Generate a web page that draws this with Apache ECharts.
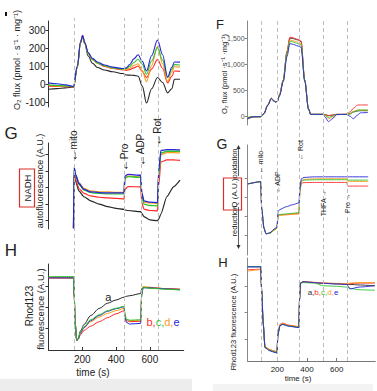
<!DOCTYPE html>
<html>
<head>
<meta charset="utf-8">
<title>O2 flux, NADH, Q and Rhod123 traces</title>
<script src="https://cdn.jsdelivr.net/npm/echarts@6/dist/echarts.min.js"></script>
<style>
  html, body { margin: 0; padding: 0; background: #fff; }
  #chart { width: 377px; height: 391px; }
</style>
</head>
<body>
<div id="chart"></div>
<script>
// event times (s) marked by dashed lines
const leftEvents = [150, 450, 550, 650];
const rightEvents = [90, 200, 350, 510, 670];

// tick labels
const fluxTicks = [-100, 0, 100, 200, 300];
const ffTicks = [0, 500, 1000, 1500];
const timeTicks = [200, 400, 600];

// left: O2 flux
const fluxT      = [0, 50, 100, 148, 170, 190, 202, 215, 235, 260, 290, 330, 380, 440, 460, 480, 505, 530, 555, 580, 610, 645, 675, 705, 730, 745, 778];
const fluxBlue   = [8, 3, -3, -12, 100, 235, 272, 232, 178, 145, 125, 108, 96, 88, 92, 110, 142, 165, 128, 75, 160, 247, 165, 40, 95, 125, 124];
const fluxGreen  = [-3, -6, -9, -13, 95, 232, 268, 228, 172, 140, 120, 104, 92, 85, 88, 100, 122, 140, 112, 56, 130, 205, 135, 38, 85, 110, 108];
const fluxOrange = [-6, -9, -11, -14, 92, 228, 265, 226, 170, 138, 118, 102, 90, 84, 82, 90, 105, 115, 75, 15, 105, 212, 115, 15, 70, 98, 96];
const fluxRed    = [-10, -12, -13, -15, 100, 240, 274, 232, 172, 140, 118, 100, 88, 82, 78, 82, 92, 102, 72, 38, 85, 138, 90, 8, 45, 74, 72];
const fluxBlack  = [-28, -24, -20, -16, 90, 238, 268, 225, 158, 118, 94, 80, 70, 60, 52, 51, 50, 45, -10, -105, -25, 38, 10, -48, -25, 28, 28];

// left: NADH autofluorescence
const nadhT      = [148, 152, 160, 180, 210, 250, 300, 350, 400, 447, 452, 470, 545, 552, 565, 600, 645, 652, 665, 700, 740, 778];
const nadhBlue   = [0.05, 3.75, 3.3, 2.75, 2.4, 2.25, 2.2, 2.18, 2.18, 2.18, 3.2, 3.3, 3.25, 2.2, 1.7, 1.62, 1.6, 3.5, 4.75, 4.8, 4.8, 4.78];
const nadhGreen  = [0.05, 3.7, 3.25, 2.7, 2.35, 2.2, 2.15, 2.12, 2.12, 2.12, 3.05, 3.17, 3.12, 2.0, 1.5, 1.42, 1.4, 3.2, 4.6, 4.7, 4.7, 4.7];
const nadhOrange = [0.05, 3.6, 3.3, 2.8, 2.45, 2.3, 2.25, 2.25, 2.22, 2.22, 3.1, 3.2, 3.15, 2.1, 1.62, 1.58, 1.55, 3.3, 4.5, 4.62, 4.62, 4.6];
const nadhRed    = [0.05, 3.5, 3.0, 2.45, 2.15, 2.0, 1.92, 1.88, 1.85, 1.82, 2.4, 2.56, 2.55, 1.6, 1.2, 1.12, 1.1, 2.6, 4.05, 4.18, 4.18, 4.15];
const nadhBlack  = [0.05, 3.37, 2.9, 2.3, 1.95, 1.7, 1.5, 1.35, 1.25, 1.19, 1.15, 1.12, 1.05, 0.95, 0.75, 0.55, 0.5, 0.6, 0.9, 1.95, 2.55, 2.95];

// left: Rhod123 fluorescence
const rhoT      = [0, 148, 152, 158, 167, 175, 190, 210, 250, 300, 350, 400, 447, 452, 460, 480, 545, 552, 560, 600, 700, 778];
const rhoBlue   = [3.39, 3.39, 2.6, 1.2, 0.45, 0.5, 0.8, 1.05, 1.38, 1.62, 1.82, 1.94, 2.03, 1.65, 1.3, 1.22, 1.25, 2.6, 2.92, 2.92, 2.87, 2.83];
const rhoGreen  = [3.45, 3.45, 2.7, 1.3, 0.45, 0.55, 0.85, 1.1, 1.42, 1.66, 1.85, 1.96, 2.05, 1.75, 1.45, 1.4, 1.42, 2.7, 2.95, 2.9, 2.85, 2.82];
const rhoOrange = [3.39, 3.39, 2.6, 1.25, 0.5, 0.55, 0.82, 1.05, 1.33, 1.55, 1.72, 1.85, 1.95, 1.7, 1.42, 1.38, 1.4, 2.7, 2.98, 2.95, 2.88, 2.85];
const rhoRed    = [3.39, 3.39, 2.6, 1.25, 0.45, 0.5, 0.72, 0.92, 1.12, 1.33, 1.52, 1.7, 1.84, 1.6, 1.38, 1.33, 1.35, 2.65, 2.95, 2.92, 2.88, 2.85];
const rhoBlack  = [3.39, 3.39, 2.6, 1.25, 0.45, 0.55, 0.9, 1.2, 1.62, 1.95, 2.2, 2.35, 2.48, 2.5, 2.52, 2.55, 2.65, 2.88, 2.95, 2.92, 2.88, 2.85];

// right: O2 flux
const ffT      = [0, 40, 88, 110, 135, 160, 175, 190, 200, 215, 240, 265, 285, 300, 340, 360, 385, 410, 425, 505, 520, 545, 570, 600, 665, 690, 712, 740, 760, 810];
const ffBlack  = [-45, -5, 0, 60, 220, 352, 310, 282, 300, 420, 700, 1240, 1505, 1500, 1470, 1440, 700, 150, 45, 45, 40, 20, 30, 45, 45, 60, 90, 110, 115, 115];
const ffRed    = [-20, 0, 0, 60, 220, 355, 310, 280, 300, 420, 700, 1250, 1525, 1515, 1480, 1450, 700, 150, 45, 45, 40, 20, 30, 45, 45, 90, 160, 222, 225, 225];
const ffOrange = [-15, 0, 0, 60, 215, 350, 305, 280, 298, 410, 690, 1220, 1470, 1460, 1430, 1400, 690, 150, 45, 45, 30, -40, -10, 40, 45, 60, 100, 125, 125, 125];
const ffGreen  = [-15, 0, 0, 60, 215, 350, 305, 280, 298, 410, 690, 1200, 1445, 1435, 1400, 1375, 690, 150, 45, 45, 35, -15, 10, 42, 45, 50, 90, 125, 128, 128];
const ffBlue   = [-30, 0, 0, 58, 212, 348, 300, 278, 296, 400, 670, 1150, 1400, 1390, 1355, 1330, 680, 150, 45, 45, 0, -95, -40, 40, 45, 10, -40, 30, 75, 80];

// right: Q redox state
const qT      = [0, 88, 95, 110, 124, 150, 184, 198, 205, 215, 260, 300, 346, 352, 362, 380, 450, 600, 668, 674, 812];
const qRed    = [3.68, 3.8, 2.4, 1.4, 1.1, 1.13, 1.33, 1.4, 2.05, 2.08, 2.1, 2.13, 2.15, 3.3, 3.72, 3.75, 3.76, 3.76, 3.76, 3.57, 3.57];
const qOrange = [3.68, 3.8, 2.4, 1.4, 1.1, 1.12, 1.3, 1.38, 2.0, 2.05, 2.08, 2.1, 2.12, 3.3, 3.85, 3.92, 3.95, 3.95, 3.95, 3.82, 3.8];
const qGreen  = [3.68, 3.8, 2.4, 1.4, 1.1, 1.13, 1.32, 1.4, 2.05, 2.1, 2.13, 2.16, 2.2, 3.4, 3.82, 3.88, 3.9, 3.9, 3.9, 3.88, 3.88];
const qBlue   = [3.68, 3.8, 2.4, 1.4, 1.1, 1.15, 1.38, 1.45, 2.25, 2.35, 2.5, 2.6, 2.7, 3.5, 3.95, 4.02, 4.05, 4.05, 4.05, 4.05, 4.05];

// right: Rhod123 fluorescence
const rhT      = [0, 88, 95, 105, 117, 150, 184, 198, 204, 218, 235, 280, 345, 350, 356, 373, 450, 510, 600, 668, 690, 750, 857];
const rhBlack  = [3.71, 3.71, 2.8, 1.6, 0.7, 0.58, 0.52, 0.5, 1.2, 1.52, 1.56, 1.5, 1.45, 2.5, 3.1, 3.15, 3.12, 3.09, 3.07, 3.05, 3.05, 3.03, 3.0];
const rhRed    = [3.6, 3.62, 2.8, 1.6, 0.72, 0.6, 0.55, 0.52, 1.2, 1.55, 1.6, 1.52, 1.47, 2.5, 3.1, 3.14, 3.12, 3.1, 3.08, 3.07, 3.08, 3.1, 3.1];
const rhGreen  = [3.72, 3.72, 2.8, 1.6, 0.68, 0.57, 0.52, 0.5, 1.18, 1.5, 1.55, 1.49, 1.44, 2.5, 3.08, 3.12, 3.1, 3.0, 2.98, 2.95, 2.9, 2.85, 2.83];
const rhOrange = [3.55, 3.6, 2.8, 1.6, 0.7, 0.6, 0.55, 0.52, 1.2, 1.53, 1.58, 1.51, 1.46, 2.5, 3.1, 3.15, 3.13, 3.1, 3.09, 3.08, 3.1, 3.12, 3.12];
const rhBlue   = [3.71, 3.71, 2.8, 1.6, 0.68, 0.56, 0.5, 0.48, 1.15, 1.5, 1.55, 1.48, 1.43, 2.5, 3.1, 3.15, 3.12, 3.09, 3.07, 3.05, 2.88, 2.95, 3.0];

const cBlue = '#2626d9', cGreen = '#2ec42e', cOrange = '#ff9a1a', cRed = '#ff2b2b', cBlack = '#262626';
const fam = '"Liberation Sans", Arial, sans-serif';

function zip(t, v) { return t.map((x, i) => [x, v[i]]); }

function trace(idx, t, v, color, width, smooth) {
    return {
        type: 'line', xAxisIndex: idx, yAxisIndex: idx, data: zip(t, v),
        showSymbol: false, smooth: smooth, smoothMonotone: 'x', silent: true, z: 3,
        lineStyle: { color: color, width: width }
    };
}

function dashes(idx, events) {
    return {
        type: 'line', xAxisIndex: idx, yAxisIndex: idx, data: [[events[0], 0]],
        showSymbol: false, silent: true, z: 1, lineStyle: { opacity: 0 },
        markLine: {
            symbol: 'none', silent: true, label: { show: false },
            lineStyle: { type: [4, 3], color: '#bdbdbd', width: 1 },
            data: events.map(x => ({ xAxis: x }))
        }
    };
}

function txt(x, y, text, size, opt) {
    opt = opt || {};
    return {
        type: 'text', x: x, y: y, rotation: opt.rot || 0, silent: true, z: 10,
        style: {
            text: text, fontSize: size, fontFamily: fam, fill: opt.color || '#222',
            align: opt.align || 'center', verticalAlign: 'middle',
            textAlign: opt.align || 'center', textVerticalAlign: 'middle',
            fontWeight: opt.weight || 'normal', rich: opt.rich
        }
    };
}

// rotated event label with a heavier arrow
const arrowRich = {
    ar: { fontSize: 12, fontWeight: 'bold', fontFamily: fam, fill: '#111', color: '#111' },
    tx: { fontSize: 10, fontFamily: fam, fill: '#222', color: '#222' }
};
function eventLabel(x, y, name) {
    return txt(x, y, '{ar|\u2190}{tx|' + name + '}', 10, { rot: Math.PI / 2, rich: arrowRich });
}

const R = Math.PI / 2;
const L = { left: 48.5, width: 135.2 };
const Rt = { left: 247.6, width: 127.7 };

const grids = [
    { left: L.left, width: L.width, top: 21, height: 86 },
    { left: L.left, width: L.width, top: 143, height: 86 },
    { left: L.left, width: L.width, top: 264, height: 86 },
    { left: Rt.left, width: Rt.width, top: 21, height: 104 },
    { left: Rt.left, width: Rt.width, top: 145, height: 110 },
    { left: Rt.left, width: Rt.width, top: 258, height: 103 },
    { left: L.left, width: L.width, top: 18, height: 332 },
    { left: Rt.left, width: Rt.width, top: 20, height: 341 }
].map(g => Object.assign({ outerBoundsMode: 'none', containLabel: false }, g));

function xAx(i, max, show, fs, col) {
    return {
        type: 'value', gridIndex: i, min: 0, max: max, show: show,
        splitLine: { show: false },
        axisLine: { show: show, onZero: false, lineStyle: { color: col, width: 1 } },
        axisTick: { show: show, inside: true, length: 3, customValues: timeTicks, lineStyle: { color: col } },
        axisLabel: { show: show, customValues: timeTicks, fontSize: fs, fontFamily: fam, color: '#222', margin: 4 }
    };
}

function yAx(i, min, max, ticks, labels, fs, col) {
    return {
        type: 'value', gridIndex: i, min: min, max: max,
        splitLine: { show: false },
        axisLine: { show: ticks.length > 0, onZero: false, lineStyle: { color: col, width: 1 } },
        axisTick: { show: ticks.length > 0, length: 3, customValues: ticks, lineStyle: { color: col } },
        axisLabel: { show: !!labels, customValues: labels || [], fontSize: fs, fontFamily: fam, color: fs < 9 ? '#555' : '#222', margin: 3 }
    };
}

const xAxes = [
    xAx(0, 800, false), xAx(1, 800, false), xAx(2, 800, true, 10, '#333'),
    xAx(3, 860, false), xAx(4, 860, false), xAx(5, 860, true, 8, '#777'),
    xAx(6, 800, false), xAx(7, 860, false)
];
const yAxes = [
    yAx(0, -127, 354, fluxTicks, fluxTicks, 10, '#333'),
    yAx(1, 0, 5.2, [0.5, 1.5, 2.5, 3.5, 4.5], null, 10, '#333'),
    yAx(2, 0, 4.04, [1, 2, 3], null, 10, '#333'),
    yAx(3, -159, 1833, ffTicks, ffTicks, 7, '#888'),
    yAx(4, 0, 5.7, [1, 2, 3, 4], null, 7, '#888'),
    yAx(5, 0.18, 4.04, [1, 2, 3], null, 7, '#888'),
    yAx(6, 0, 1, [], null, 7, '#fff'),
    yAx(7, 0, 1, [], null, 7, '#fff')
];
yAxes[6].show = false; yAxes[7].show = false;

const series = [
    dashes(6, leftEvents), dashes(7, rightEvents),
    trace(0, fluxT, fluxBlack, cBlack, 1.1, 0.35),
    trace(0, fluxT, fluxRed, cRed, 1.1, 0.35),
    trace(0, fluxT, fluxOrange, cOrange, 1.1, 0.35),
    trace(0, fluxT, fluxGreen, cGreen, 1.1, 0.35),
    trace(0, fluxT, fluxBlue, cBlue, 1.1, 0.35),
    trace(1, nadhT, nadhBlack, cBlack, 1.2, 0.2),
    trace(1, nadhT, nadhRed, cRed, 1.2, 0.2),
    trace(1, nadhT, nadhOrange, cOrange, 1.3, 0.2),
    trace(1, nadhT, nadhGreen, cGreen, 1.3, 0.2),
    trace(1, nadhT, nadhBlue, cBlue, 1.3, 0.2),
    trace(2, rhoT, rhoBlack, cBlack, 1, 0.3),
    trace(2, rhoT, rhoRed, cRed, 1, 0.3),
    trace(2, rhoT, rhoOrange, cOrange, 1, 0.3),
    trace(2, rhoT, rhoBlue, cBlue, 1, 0.3),
    trace(2, rhoT, rhoGreen, cGreen, 1, 0.3),
    trace(3, ffT, ffBlack, cBlack, 0.9, 0.3),
    trace(3, ffT, ffRed, cRed, 0.9, 0.3),
    trace(3, ffT, ffOrange, cOrange, 0.9, 0.3),
    trace(3, ffT, ffGreen, cGreen, 0.9, 0.3),
    trace(3, ffT, ffBlue, cBlue, 0.9, 0.3),
    trace(4, qT, qRed, cRed, 0.9, 0.2),
    trace(4, qT, qOrange, cOrange, 0.9, 0.2),
    trace(4, qT, qGreen, cGreen, 0.9, 0.2),
    trace(4, qT, qBlue, cBlue, 0.9, 0.2),
    trace(5, rhT, rhBlack, cBlack, 0.9, 0.2),
    trace(5, rhT, rhRed, cRed, 0.9, 0.2),
    trace(5, rhT, rhOrange, cOrange, 0.9, 0.2),
    trace(5, rhT, rhGreen, cGreen, 0.9, 0.2),
    trace(5, rhT, rhBlue, cBlue, 0.9, 0.2)
];

const richLetters = {
    a: { fill: '#333', color: '#333' },
    b: { fill: cRed, color: cRed },
    c: { fill: cGreen, color: cGreen },
    d: { fill: cOrange, color: cOrange },
    e: { fill: cBlue, color: cBlue }
};
function richSize(sz) {
    const r = {};
    Object.keys(richLetters).forEach(k => r[k] = Object.assign({ fontSize: sz, fontFamily: fam }, richLetters[k]));
    return r;
}

const graphics = [
    // bottom grey strips
    { type: 'rect', shape: { x: 0, y: 379, width: 192, height: 12 }, style: { fill: '#ededed' }, silent: true, z: 0 },
    { type: 'rect', shape: { x: 213, y: 384, width: 160, height: 7 }, style: { fill: '#f3f3f3' }, silent: true, z: 0 },
    { type: 'rect', shape: { x: 5, y: 12, width: 2, height: 4 }, style: { fill: '#111' }, silent: true },

    // left column
    txt(17, 60, 'O\u2082 flux (pmol \u00b7 s\u207b\u00b9 \u00b7 mg\u207b\u00b9)', 9, { rot: R }),
    txt(11, 133, 'G', 17),
    { type: 'rect', shape: { x: 19.5, y: 169, width: 15, height: 38 }, style: { fill: 'none', stroke: '#d9302a', lineWidth: 1.2 }, silent: true },
    txt(27.5, 188, 'NADH', 9.5, { rot: R }),
    txt(40, 181, 'autofluorescence (A.U.)', 9, { rot: R }),
    eventLabel(73.3, 146, 'mito'),
    eventLabel(124, 157.5, 'Pro'),
    eventLabel(140.7, 150, 'ADP'),
    eventLabel(157.3, 132, 'Rot'),
    txt(11, 250, 'H', 17),
    txt(29, 306, 'Rhod123', 10, { rot: R }),
    txt(40.5, 309, 'fluorescence (A.U.)', 9.5, { rot: R }),
    txt(108.3, 296.5, 'a', 11),
    txt(146.5, 322, '{b|b,}{c|c,}{d|d,}{e|e}', 11, { align: 'left', rich: richSize(11) }),
    txt(93, 372, 'time (s)', 10),

    // right column
    txt(220, 24, 'F', 13),
    txt(224.5, 74, 'O\u2082 flux (pmol \u00b7s\u207b\u00b9 \u00b7mg\u207b\u00b9)', 7.5, { rot: R }),
    txt(222, 144, 'G', 14),
    { type: 'rect', shape: { x: 223.5, y: 178, width: 18, height: 32 }, style: { fill: 'none', stroke: '#d9302a', lineWidth: 1.2 }, silent: true },
    txt(234, 221, 'reduction', 7.5, { rot: R }),
    txt(234, 193, 'Q (A.U.)', 8, { rot: R }),
    txt(234, 163.5, 'oxidation', 7.5, { rot: R }),
    { type: 'line', shape: { x1: 238.5, y1: 207, x2: 238.5, y2: 246 }, style: { stroke: '#333', lineWidth: 0.8 }, silent: true },
    { type: 'polygon', shape: { points: [[236.5, 245], [240.5, 245], [238.5, 249]] }, style: { fill: '#333' }, silent: true },
    { type: 'line', shape: { x1: 238.5, y1: 176, x2: 238.5, y2: 148 }, style: { stroke: '#333', lineWidth: 0.8 }, silent: true },
    { type: 'polygon', shape: { points: [[236.5, 149], [240.5, 149], [238.5, 145]] }, style: { fill: '#333' }, silent: true },
    txt(260.7, 162, '\u2190 mito', 7, { rot: R }),
    txt(277.3, 182, '\u2190ADP', 7, { rot: R }),
    txt(300, 150, '\u2190 Rot', 7, { rot: R }),
    txt(323.3, 203, 'THFA \u2192', 7, { rot: R }),
    txt(347.3, 203, 'Pro \u2192', 7, { rot: R }),
    txt(223, 262, 'H', 13),
    txt(233, 322, 'Rhod123 fluorescence (A.U.)', 7.5, { rot: R }),
    txt(323, 292, '{a|a,}{b|b,}{c|c,}{d|d,}{e|e}', 8, { rich: richSize(8) }),
    txt(298, 378, 'time (s)', 8)
];

const chart = echarts.init(document.getElementById('chart'), null, { renderer: 'svg' });
chart.setOption({
    animation: false,
    backgroundColor: '#fff',
    grid: grids,
    xAxis: xAxes,
    yAxis: yAxes,
    series: series,
    graphic: graphics
});
</script>
</body>
</html>
